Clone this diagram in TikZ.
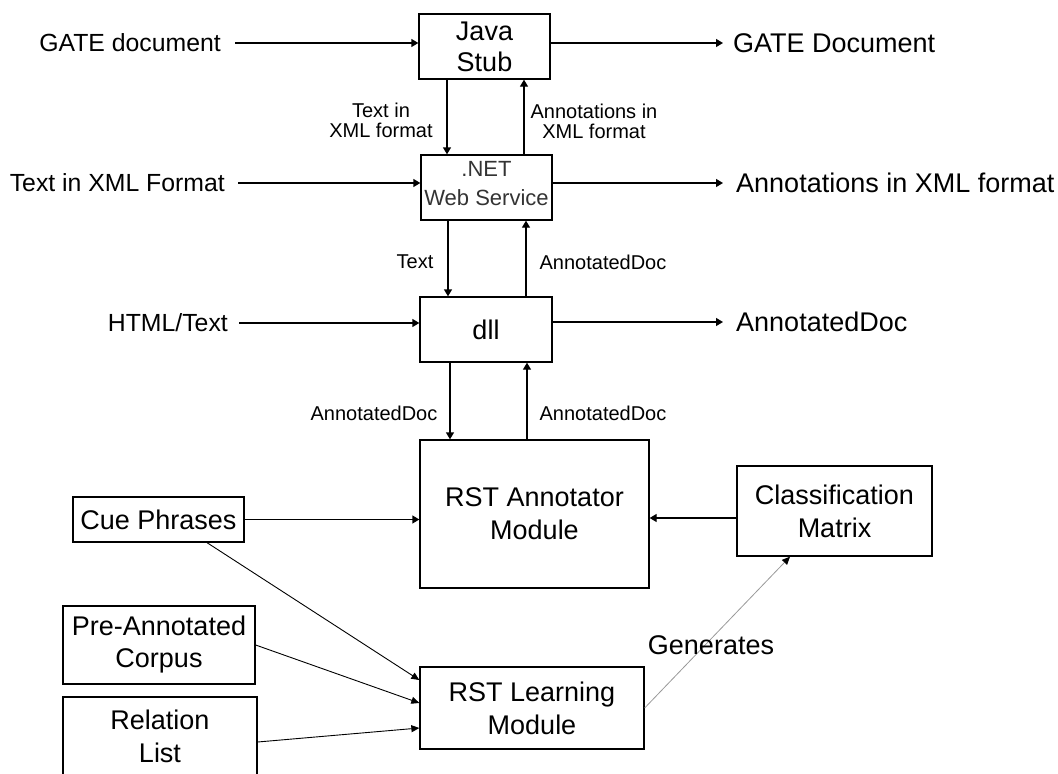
\documentclass[tikz,border=0pt]{standalone}
\usepackage{fontspec}
\setmainfont{Liberation Sans}
\usetikzlibrary{arrows.meta}
\begin{document}
\begin{tikzpicture}[x=1pt,y=-1pt,
  box/.style={draw, line width=1.3pt, inner sep=0pt, align=center, font=\fontsize{27}{33}\selectfont},
  big/.style={font=\fontsize{27}{33}\selectfont, inner sep=0pt, anchor=west},
  inlab/.style={font=\fontsize{24.8}{28}\selectfont, inner sep=0pt, anchor=east},
  small/.style={font=\fontsize{20}{20}\selectfont, inner sep=0pt, align=center},
  arr/.style={-{Triangle[length=7pt,width=8pt]}, line width=1.3pt},
  fine/.style={-{Triangle[length=8pt,width=7pt]}, line width=0.9pt}]
\path[use as bounding box] (0,0) rectangle (1058,774);
\clip (0,0) rectangle (1058,774);

% boxes
\node[box, minimum width=131pt, minimum height=65pt, font=\fontsize{27}{31}\selectfont] (java) at (484.5,46.5) {Java\\Stub};
\node[box, minimum width=131pt, minimum height=65pt, font=\fontsize{22}{29}\selectfont, text=black!80] (net) at (486.5,187.5) {.NET\\Web Service\\[-21pt]\mbox{}};
\node[box, minimum width=132pt, minimum height=65pt] (dll) at (486,329.5) {dll};
\node[box, minimum width=229pt, minimum height=148pt] (rsta) at (534.5,514) {RST Annotator\\Module};
\node[box, minimum width=195pt, minimum height=90pt] (cm) at (834.5,511) {Classification\\Matrix};
\node[box, minimum width=224pt, minimum height=82pt] (rstl) at (532,708) {RST Learning\\Module};
\node[box, minimum width=171pt, minimum height=45pt] (cue) at (158.5,519.5) {Cue Phrases};
\node[box, minimum width=192pt, minimum height=78pt, font=\fontsize{27}{32}\selectfont] (pac) at (159,645) {Pre-Annotated\\Corpus};
\node[box, minimum width=194pt, minimum height=79pt] (rel) at (160,736.5) {Relation\\List};

% input labels
\node[inlab] (gdin) at (221,43) {GATE document};
\node[inlab] (txin) at (225,183) {Text in XML Format};
\node[inlab] (htin) at (228,323) {HTML/Text};
\coordinate (a1) at (235,43);
\coordinate (a2) at (238,183);
\coordinate (a3) at (239,323);
\draw[arr] (a1) -- (a1 -| java.west);
\draw[arr] (a2) -- (a2 -| net.west);
\draw[arr] (a3) -- (a3 -| dll.west);

% outputs
\node[big] (gdout) at (733,43) {GATE Document};
\node[big] (anout) at (736,183) {Annotations in XML format};
\node[big] (adout) at (736,322) {AnnotatedDoc};
\draw[arr] (java.east |- gdout.west) -- ([xshift=-10pt]gdout.west);
\draw[arr] (net.east |- anout.west) -- ([xshift=-13pt]anout.west);
\draw[arr] (dll.east |- adout.west) -- ([xshift=-13pt]adout.west);

% vertical links
\draw[arr] ([xshift=-37.5pt]java.south) -- ([xshift=-37.5pt]java.south |- net.north);
\draw[arr] ([xshift=37.5pt]net.north) -- ([xshift=37.5pt]net.north |- java.south);
\draw[arr] ([xshift=-38.5pt]net.south) -- ([xshift=-38.5pt]net.south |- dll.north);
\draw[arr] ([xshift=40pt]dll.north) -- ([xshift=40pt]dll.north |- net.south);
\draw[arr] ([xshift=-36pt]dll.south) -- ([xshift=-36pt]dll.south |- rsta.north);
\draw[arr] ([xshift=-7.5pt]rsta.north) -- ([xshift=-7.5pt]rsta.north |- dll.south);

% link labels
\node[small] (l1) at (381,120) {Text in\\XML format};
\node[small] (l2) at (594,121) {Annotations in\\XML format};
\node[small] (l3) at (415,262) {Text};
\node[small] (l4) at (603,262) {AnnotatedDoc};
\node[small] (l5) at (374,413) {AnnotatedDoc};
\node[small] (l6) at (603,413) {AnnotatedDoc};

% lower links
\draw[arr] (cue.east) -- (cue.east -| rsta.west);
\draw[arr] ([yshift=-7pt]cm.west) -- ([yshift=-7pt]cm.west -| rsta.east);
\draw[fine] ([xshift=48.5pt]cue.south) -- ([yshift=28pt]rstl.west);
\draw[fine] (pac.east) -- ([yshift=5pt]rstl.west);
\draw[fine] ([yshift=-5.5pt]rel.east) -- ([yshift=-20pt]rstl.west);
\draw[-{Triangle[length=8pt,width=7pt,color=black]}, line width=0.8pt, draw=black!40] (rstl.east) -- ([xshift=-44.5pt]cm.south);
\node[big, anchor=center] (gen) at (711,645) {Generates};
\end{tikzpicture}
\end{document}
